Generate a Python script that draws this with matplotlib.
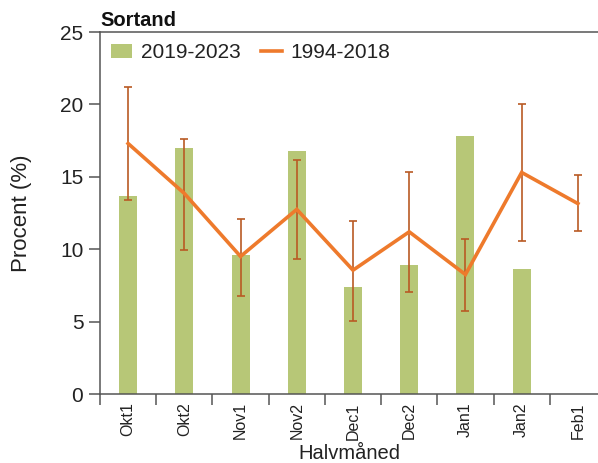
import matplotlib
matplotlib.use("Agg")
import matplotlib.pyplot as plt
import numpy as np

plt.rcParams['font.family'] = ['Liberation Sans', 'DejaVu Sans']

periods = ["Okt1", "Okt2", "Nov1", "Nov2", "Dec1", "Dec2", "Jan1", "Jan2", "Feb1"]
recent = [13.7, 17.0, 9.6, 16.8, 7.4, 8.9, 17.85, 8.6, np.nan]  # 2019-2023
baseline = [17.3, 13.85, 9.5, 12.75, 8.55, 11.2, 8.25, 15.3, 13.15]  # 1994-2018
err_upper = [21.2, 17.6, 12.1, 16.15, 11.95, 15.3, 10.7, 20.0, 15.1]
err_lower = [13.4, 9.95, 6.75, 9.3, 5.05, 7.05, 5.75, 10.6, 11.25]

bar_color = "#b7c777"
line_color = "#ee7a2c"
err_color = "#b95a24"
axis_color = "#555555"
text_color = "#222222"

fig = plt.figure(figsize=(5.98, 4.63), dpi=100)
ax = fig.add_axes([100 / 598, (463 - 394) / 463, 506 / 598, 362 / 463])

x = np.arange(len(periods))
bars = ax.bar(x, recent, width=0.32, color=bar_color, label="2019-2023", zorder=2)

base = np.array(baseline)
yerr = np.vstack([base - np.array(err_lower), np.array(err_upper) - base])
ax.errorbar(x, base, yerr=yerr, fmt="none", ecolor=err_color, elinewidth=1.2,
            capsize=3, capthick=1.2, zorder=3)
line, = ax.plot(x, base, color=line_color, lw=2.6, label="1994-2018", zorder=4,
                solid_joinstyle="miter")

ax.set_xlim(-0.5, len(periods) - 0.5)
ax.set_ylim(0, 25)
ax.set_yticks([0, 5, 10, 15, 20, 25])
ax.tick_params(axis="y", labelsize=15, length=8, width=1.1, color=axis_color,
               labelcolor=text_color, pad=4)

# category boundaries carry the tick marks, category centres carry the labels
ax.set_xticks(np.arange(-0.5, len(periods), 1.0))
ax.set_xticklabels([])
ax.set_xticks(x, minor=True)
ax.set_xticklabels(periods, minor=True, rotation=90)
ax.tick_params(axis="x", which="major", length=8, width=1.1, color=axis_color)
ax.tick_params(axis="x", which="minor", length=0, labelsize=11.5,
               labelcolor=text_color, pad=6)

for s in ["left", "bottom", "top", "right"]:
    ax.spines[s].set_color(axis_color)
    ax.spines[s].set_linewidth(1.1)

ax.set_ylabel("Procent (%)", fontsize=16, color=text_color)
ax.yaxis.set_label_coords((22 - 100) / 506, 0.5)
ax.yaxis.label.set_va("center")
ax.set_xlabel("Halvmåned", fontsize=14.5, color=text_color)
ax.xaxis.set_label_coords(0.5 * 498 / 506, (394 - 444) / 362)
ax.xaxis.label.set_va("top")
ax.set_title("Sortand", loc="left", fontsize=14.5, fontweight="bold",
             color="#111111", pad=4)

leg = ax.legend([bars, line], ["2019-2023", "1994-2018"], loc="upper left",
                ncol=2, frameon=False, fontsize=15, bbox_to_anchor=(0.0, 1.0),
                handlelength=1.0, handleheight=0.7, columnspacing=1.0,
                handletextpad=0.4, borderaxespad=0.15)
for t in leg.get_texts():
    t.set_color(text_color)

fig.savefig("out.png", dpi=100, facecolor="white")
